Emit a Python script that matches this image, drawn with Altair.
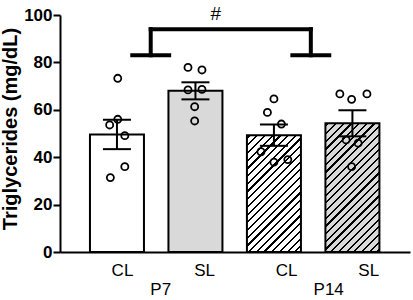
import json
import altair as alt
import pandas as pd

# ---------------- data ----------------
groups = ["CL", "SL", "CL", "SL"]
ages = ["P7", "P7", "P14", "P14"]
age_names = ["P7", "P14"]
positions = [0, 1, 2, 3]
means = [49.6, 68.0, 49.3, 54.3]
sems = [6.2, 3.6, 4.5, 5.5]

cl_p7 = [73.3, 56.0, 53.6, 49.1, 36.0, 31.4]
sl_p7 = [77.9, 76.8, 68.4, 68.6, 61.3, 55.3]
cl_p14 = [64.6, 58.9, 54.0, 42.3, 37.9, 39.0]
sl_p14 = [66.7, 64.4, 66.7, 47.3, 45.9, 36.0]
jit_cl_p7 = [0.01, 0.01, -0.093, 0.10, 0.10, -0.084]
jit_sl_p7 = [-0.095, 0.083, -0.095, 0.083, -0.01, -0.01]
jit_cl_p14 = [0.0, -0.083, 0.095, -0.165, 0.0, 0.177]
jit_sl_p14 = [-0.16, -0.01, 0.185, -0.08, 0.073, -0.01]

bracket_legs = [0.43, 2.47]
bracket_levels = [83, 94]
bracket_foot = 0.235
sig_text = "#"
sig_pos = [1.26, 100.6]

y_ticks = [0, 20, 40, 60, 80, 100]
y_title = "Triglycerides (mg/dL)"

# ---------------- layout / style ----------------
W, H = 350, 237
BAR_W = 54
GREY = "#d9d9d9"
FONT = "Liberation Sans"

bars_df = pd.DataFrame({"pos": positions, "group": groups, "age": ages,
                        "mean": means, "sem": sems})
bars_df["lo"] = bars_df["mean"] - bars_df["sem"]
bars_df["hi"] = bars_df["mean"] + bars_df["sem"]

rows = []
for p, vals, jit in zip(positions, [cl_p7, sl_p7, cl_p14, sl_p14],
                        [jit_cl_p7, jit_sl_p7, jit_cl_p14, jit_sl_p14]):
    for v, j in zip(vals, jit):
        rows.append({"pos": p, "value": v, "jitter": j})
pts_df = pd.DataFrame(rows)

L, R = bracket_legs
lo_b, hi_b = bracket_levels
f = bracket_foot
br_df = pd.DataFrame([
    {"x1": L - f, "x2": L + f, "y1": lo_b, "y2": lo_b},
    {"x1": L, "x2": L, "y1": lo_b, "y2": hi_b},
    {"x1": L, "x2": R, "y1": hi_b, "y2": hi_b},
    {"x1": R, "x2": R, "y1": lo_b, "y2": hi_b},
    {"x1": R - f, "x2": R + f, "y1": lo_b, "y2": lo_b},
])
sig_df = pd.DataFrame({"x": [sig_pos[0]], "y": [sig_pos[1]], "t": [sig_text]})

age_centers = [sum(p for p, a in zip(positions, ages) if a == n) /
               sum(1 for a in ages if a == n) for n in age_names]


def hatch(bg, h_px, w_px=BAR_W, period=7.7, line=2.2):
    total = w_px + h_px
    k = (w_px ** 2 + h_px ** 2) / total
    stops = [{"color": bg, "offset": 0}]
    i = 0
    while True:
        a = (i * period + 2.0) / total
        if a >= 1:
            break
        b = min(a + line / total, 1.0)
        stops += [{"color": bg, "offset": a}, {"color": "black", "offset": a},
                  {"color": "black", "offset": b}, {"color": bg, "offset": b}]
        i += 1
    stops.append({"color": bg, "offset": 1})
    return {"gradient": "linear", "x1": 0, "y1": 0,
            "x2": w_px / k, "y2": h_px / k, "stops": stops}


xs = alt.Scale(domain=[-0.662, 3.67], nice=False, zero=False)
ys = alt.Scale(domain=[0, 100], nice=False, zero=True)

x_cat_axis = alt.Axis(
    values=positions, labelExpr=f"{json.dumps(groups)}[datum.value]",
    ticks=False, tickSize=0, grid=False, domain=True, domainColor="black",
    domainWidth=2, labelFontSize=17, labelFont=FONT, labelColor="black",
    labelPadding=10, labelOffset={"expr": "5 + 3.6*datum.value"},
    labelFlush=False, labelOverlap=False, title=None, orient="bottom")

x_age_axis = alt.Axis(
    values=age_centers,
    labelExpr=f"{json.dumps(age_names)}[datum.value < 1.5 ? 0 : 1]",
    ticks=False, tickSize=0, grid=False, domain=False, labelFontSize=17,
    labelFont=FONT, labelColor="black", labelPadding=29,
    labelOffset={"expr": "1.25 + 5.5*datum.value"},
    labelFlush=False, labelOverlap=False, title=None, orient="bottom")

y_axis = alt.Axis(
    values=y_ticks, title=y_title, titleFont=FONT, titleFontSize=20,
    titleFontWeight="bold", titleColor="black", titleX=-50, titleY=H / 2 - 5,
    titleAngle=270, titleAlign="center", titleBaseline="middle",
    labelFont=FONT, labelFontSize=17, labelFontWeight="bold",
    labelColor="black", labelPadding=1, tickSize=7, tickWidth=2,
    tickColor="black", domainWidth=2, domainColor="black", grid=False,
    labelFlush=False)


def Y(field):
    return alt.Y(field, scale=ys, axis=y_axis)


base = alt.Chart(bars_df)

bars_p7 = base.transform_filter(f"datum.age == '{age_names[0]}'").mark_bar(
    width=BAR_W, stroke="black", strokeWidth=2).encode(
    x=alt.X("pos:Q", scale=xs, axis=x_cat_axis),
    y=Y("mean:Q"),
    fill=alt.condition("datum.group == 'SL'", alt.value(GREY), alt.value("white")),
)

p14_layers = []
for p, g, a, m in zip(positions, groups, ages, means):
    if a != age_names[1]:
        continue
    bg = GREY if g == "SL" else "white"
    p14_layers.append(
        base.transform_filter(f"datum.pos == {p}").mark_bar(
            width=BAR_W, stroke="black", strokeWidth=2,
            fill=hatch(bg, m / 100 * H)).encode(
            x=alt.X("pos:Q", scale=xs, axis=None),
            y=Y("mean:Q")))

err = base.mark_rule(color="black", strokeWidth=2).encode(
    x=alt.X("pos:Q", scale=xs, axis=None),
    y=Y("lo:Q"), y2="hi:Q")
cap_lo = base.mark_rule(color="black", strokeWidth=2, xOffset=-14, x2Offset=14).encode(
    x=alt.X("pos:Q", scale=xs, axis=None), x2="pos:Q",
    y=Y("lo:Q"))
cap_hi = base.mark_rule(color="black", strokeWidth=2, xOffset=-14, x2Offset=14).encode(
    x=alt.X("pos:Q", scale=xs, axis=None), x2="pos:Q",
    y=Y("hi:Q"))

points = alt.Chart(pts_df).transform_calculate(
    px="datum.pos + datum.jitter").mark_point(
    shape="circle", filled=False, size=50, strokeWidth=1.8,
    color="black", opacity=1).encode(
    x=alt.X("px:Q", scale=xs, axis=x_age_axis),
    y=Y("value:Q"))

bracket = alt.Chart(br_df).mark_rule(
    color="black", strokeWidth=4, strokeCap="square").encode(
    x=alt.X("x1:Q", scale=xs, axis=None), x2="x2:Q",
    y=Y("y1:Q"), y2="y2:Q")

sig = alt.Chart(sig_df).mark_text(
    font=FONT, fontSize=19, color="black", baseline="middle", align="center").encode(
    x=alt.X("x:Q", scale=xs, axis=None),
    y=Y("y:Q"), text="t:N")

chart = alt.layer(bars_p7, *p14_layers, err, cap_lo, cap_hi, points,
                  bracket, sig).resolve_axis(x="independent").properties(
    width=W, height=H,
    autosize=alt.AutoSizeParams(type="none"),
    padding={"left": 60, "top": 15, "right": 3, "bottom": 48},
).configure_view(stroke=None)

chart.save("out.html", embed_options={"renderer": "svg", "actions": False})
